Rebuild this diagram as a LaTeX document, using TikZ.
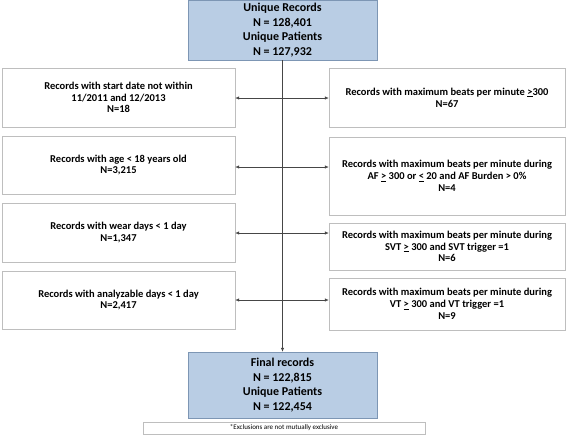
\documentclass[tikz,border=0pt]{standalone}
\usepackage{fontspec}
\setmainfont{Carlito}
\usepackage{xcolor}
\usetikzlibrary{arrows.meta,positioning,calc}
\definecolor{azulclaro}{RGB}{185,205,228}
\definecolor{bordeazul}{RGB}{125,150,180}
\definecolor{bordegris}{RGB}{190,190,190}
\definecolor{linea}{RGB}{70,70,70}

\begin{document}
\begin{tikzpicture}[x=1pt,y=-1pt,
total/.style={draw=bordeazul,fill=azulclaro,minimum width=189pt,align=center,font=\fontsize{12}{14.6}\selectfont\bfseries,inner sep=0pt},
excl/.style={draw=bordegris,fill=white,align=center,font=\fontsize{10.5}{11.8}\selectfont\bfseries,inner sep=0pt},
izq/.style={excl,minimum width=233pt},
der/.style={excl,minimum width=236pt},
arr/.style={-{Latex[length=4pt,width=3.5pt]},draw=linea,semithick}
]
\useasboundingbox (0,0) rectangle (567,437);

\node[total,minimum height=60pt] (inicio) at (282.5,30)
  {Unique Records\\N = 128,401\\Unique Patients\\N = 127,932};

\node[izq,minimum height=59pt] (fecha) at (118.5,97.5)
  {Records with start date not within\\11/2011 and 12/2013\\N=18};
\node[izq,minimum height=58pt] (edad) at (118.5,165)
  {Records with age < 18 years old\\N=3,215};
\node[izq,minimum height=59pt] (uso) at (118.5,232.5)
  {Records with wear days < 1 day\\N=1,347};
\node[izq,minimum height=58pt] (analisis) at (118.5,300)
  {Records with analyzable days < 1 day\\N=2,417};

\node[der,minimum height=59pt] (lpm) at (447,97.5)
  {Records with maximum beats per minute \underline{>}300\\N=67};
\node[der,minimum height=78pt] (af) at (447,176)
  {Records with maximum beats per minute during\\AF \underline{>} 300 or \underline{<} 20 and AF Burden > 0\%\\N=4};
\node[der,minimum height=47pt] (svt) at (447,246.5)
  {Records with maximum beats per minute during\\SVT \underline{>} 300 and SVT trigger =1\\N=6};
\node[der,minimum height=52pt] (vt) at (447,304)
  {Records with maximum beats per minute during\\VT \underline{>} 300 and VT trigger =1\\N=9};

\node[total,minimum height=66pt] (final) at (282.5,385)
  {Final records\\N = 122,815\\Unique Patients\\N = 122,454};
\node[draw=bordegris,fill=white,minimum width=282pt,minimum height=12pt,inner sep=0pt,font=\fontsize{7}{8}\selectfont] (nota) at (284,428)
  {*Exclusions are not mutually exclusive};

% tronco central
\draw[arr] (inicio) -- (final);
\coordinate (j1) at (283,98);
\coordinate (j2) at (283,167);
\coordinate (j3) at (283,233);
\coordinate (j4) at (283,300);
\draw[arr] (j1) -- (fecha.east|-j1);
\draw[arr] (j2) -- (edad.east|-j2);
\draw[arr] (j3) -- (uso.east|-j3);
\draw[arr] (j4) -- (analisis.east|-j4);
\draw[arr] (j1) -- (lpm.west|-j1);
\draw[arr] (j2) -- (af.west|-j2);
\draw[arr] (j3) -- (svt.west|-j3);
\draw[arr] (j4) -- (vt.west|-j4);
\end{tikzpicture}
\end{document}
